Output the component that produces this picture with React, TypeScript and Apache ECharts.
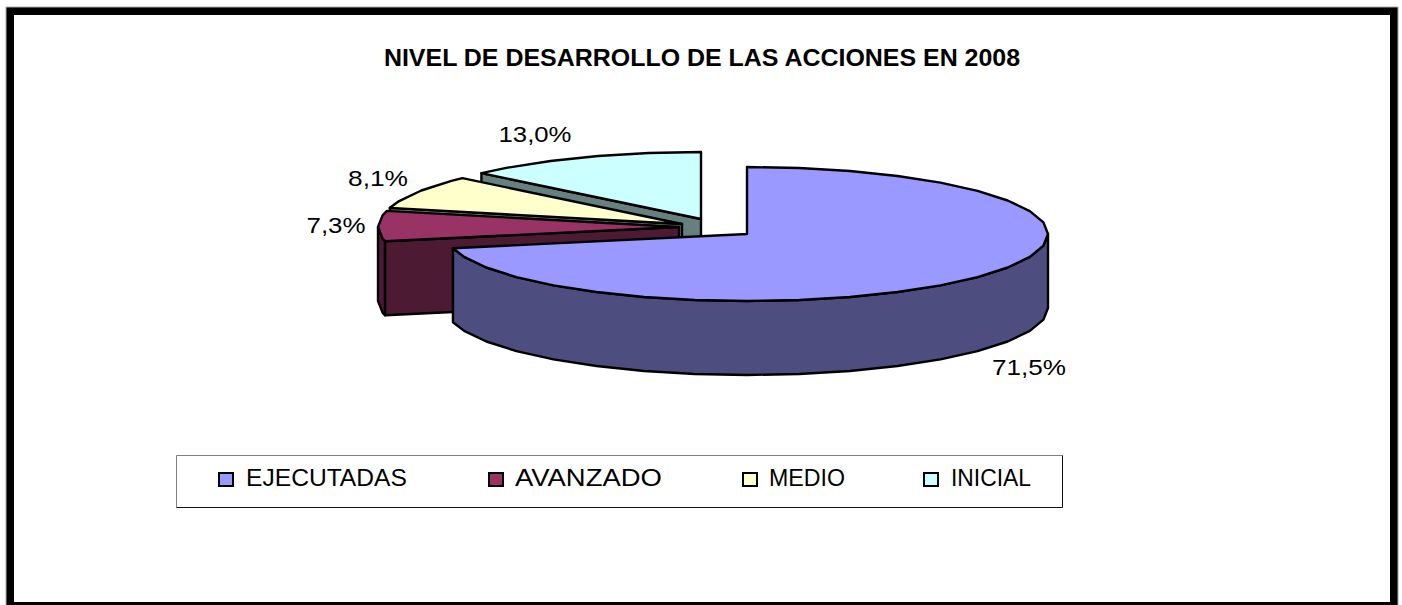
import React, { useEffect, useRef } from "react";
import * as echarts from "echarts";

const titleText = "NIVEL DE DESARROLLO DE LAS ACCIONES EN 2008";
const categories = ["EJECUTADAS", "AVANZADO", "MEDIO", "INICIAL"];
const shares = [71.5, 7.3, 8.1, 13.0];
const topColors = ["#9999FF", "#993366", "#FFFFCC", "#CCFFFF"];
const wallColors = ["#4D4D80", "#4D1A33", "#808066", "#668080"];

// layout of the exploded slices (pixels)
const centers = [[747, 234], [679, 227], [682, 224], [701, 219]];
const RX = 301, RY = 67, DEPTH = 74;
const labelAnchors = [[1029, 367], [336, 225], [378, 178], [535, 134]];
const labelWidths = [74, 59, 60, 73];
const legendIconX = [219, 489, 743, 924];
const legendTextX = [246, 515, 769, 951];
const legendTextW = [161, 147, 76, 80];

const FONT = '"Liberation Sans", Arial, sans-serif';
const ctx = document.createElement("canvas").getContext("2d")!;
function fitScale(text: string, font: string, target: number) {
  ctx.font = font;
  return target / ctx.measureText(text).width;
}

const total = shares.reduce((a, b) => a + b, 0);
const rad = (d: number) => (d * Math.PI) / 180;

function arc(cx: number, cy: number, a0: number, a1: number, dy = 0) {
  const pts: number[][] = [];
  const pt = (a: number) => [cx + RX * Math.sin(rad(a)), cy - RY * Math.cos(rad(a)) + dy];
  pts.push(pt(a0));
  const step = 10;
  for (let a = Math.ceil(a0 / step + 1e-6) * step; a < a1 - 1e-6; a += step) pts.push(pt(a));
  pts.push(pt(a1));
  return pts;
}

const renderSlice = (params: any, api: any) => {
  const i = api.value(0) as number;
  const value = api.value(1) as number;
  let before = 0;
  for (let k = 0; k < i; k++) before += shares[k];
  const a0 = (before / total) * 360;
  const a1 = ((before + value) / total) * 360;
  const [cx, cy] = centers[i];
  const border = { stroke: "#000", lineWidth: 2.4, lineJoin: "round" };
  const children: any[] = [];

  const face = (a: number) => {
    const e = arc(cx, cy, a, a)[0];
    children.push({
      type: "polygon",
      shape: { points: [[cx, cy], e, [e[0], e[1] + DEPTH], [cx, cy + DEPTH]] },
      style: { fill: wallColors[i], ...border },
    });
  };
  if (a0 > 180 && a0 < 360) face(a0);
  if (a1 > 0 && a1 < 180) face(a1);

  const w0 = Math.max(a0, 90);
  const w1 = Math.min(a1, 270);
  if (w1 > w0) {
    const upper = arc(cx, cy, w0, w1);
    const lower = arc(cx, cy, w0, w1, DEPTH).reverse();
    children.push({
      type: "polygon",
      shape: { points: [...upper, ...lower] },
      style: { fill: wallColors[i], ...border },
    });
  }

  children.push({
    type: "polygon",
    shape: { points: [[cx, cy], ...arc(cx, cy, a0, a1)] },
    style: { fill: topColors[i], ...border },
  });

  const text = value.toFixed(1).replace(".", ",") + "%";
  const font = `22px ${FONT}`;
  children.push({
    type: "text",
    x: labelAnchors[i][0],
    y: labelAnchors[i][1],
    scaleX: fitScale(text, font, labelWidths[i]),
    style: { text, font, fill: "#000", align: "center", verticalAlign: "middle" },
  });
  return { type: "group", children };
};

export default function App() {
  const ref = useRef<HTMLDivElement>(null);
  useEffect(() => {
    document.body.style.margin = "0";
    const chart = echarts.init(ref.current!, null, { renderer: "svg" });
    const titleFont = `bold 24px ${FONT}`;
    const legendFont = `24px ${FONT}`;
    const legendItems: any[] = [];
    categories.forEach((name, i) => {
      legendItems.push({
        type: "rect",
        shape: { x: legendIconX[i], y: 473, width: 14, height: 13 },
        style: { fill: topColors[i], stroke: "#000", lineWidth: 2 },
      });
      legendItems.push({
        type: "text",
        x: legendTextX[i],
        y: 478,
        scaleX: fitScale(name, legendFont, legendTextW[i]),
        style: { text: name, font: legendFont, fill: "#000", align: "left", verticalAlign: "middle" },
      });
    });
    const boxLine = (x1: number, y1: number, x2: number, y2: number, stroke: string) => ({
      type: "line",
      shape: { x1, y1, x2, y2 },
      style: { stroke, lineWidth: 1 },
    });
    chart.setOption({
      animation: false,
      backgroundColor: "#fff",
      graphic: [
        { type: "rect", shape: { x: 6, y: 7, width: 1392, height: 600 }, style: { fill: "#000", stroke: "#aaa", lineWidth: 1 } },
        { type: "rect", shape: { x: 14, y: 15, width: 1376, height: 587 }, style: { fill: "#fff" } },
        boxLine(176.5, 455.5, 1062.5, 455.5, "#808080"),
        boxLine(176.5, 455.5, 176.5, 507.5, "#808080"),
        boxLine(176.5, 507.5, 1062.5, 507.5, "#111"),
        boxLine(1062.5, 455.5, 1062.5, 507.5, "#111"),
        {
          type: "text",
          x: 702,
          y: 58,
          scaleX: fitScale(titleText, titleFont, 638),
          style: { text: titleText, font: titleFont, fill: "#000", align: "center", verticalAlign: "middle" },
        },
        ...legendItems,
      ],
      series: [
        {
          type: "custom",
          coordinateSystem: "none",
          clip: false,
          renderItem: renderSlice,
          // painted back to front
          data: categories.map((name, i) => ({ name, value: [i, shares[i]] })).reverse(),
        },
      ],
    });
    return () => chart.dispose();
  }, []);
  return <div ref={ref} style={{ width: 1402, height: 605 }} />;
}
